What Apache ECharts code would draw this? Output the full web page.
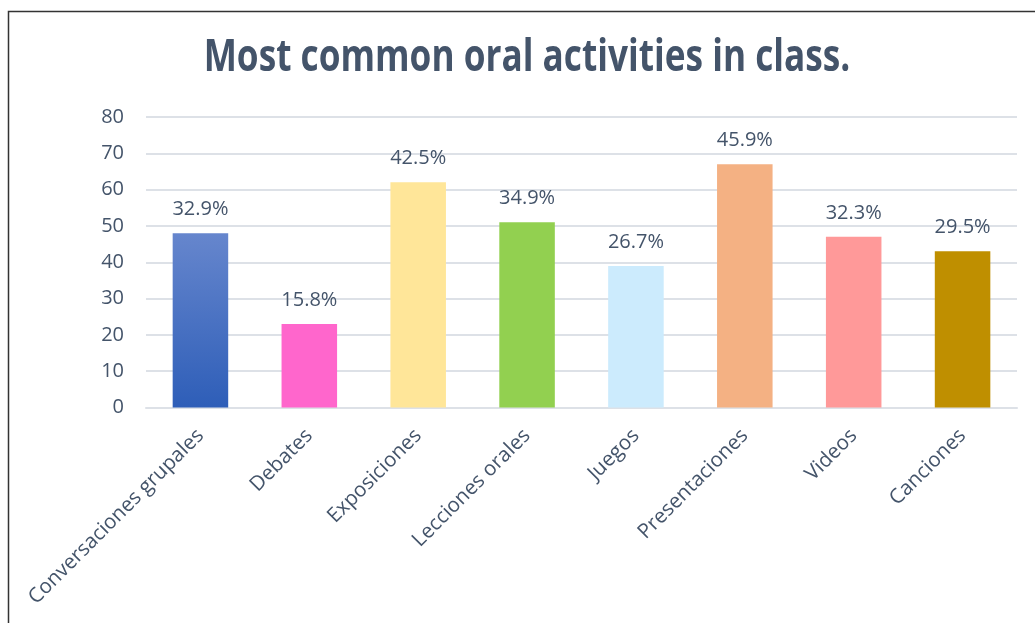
<!DOCTYPE html>
<html>
<head>
<meta charset="utf-8">
<title>Most common oral activities in class.</title>
<script src="https://cdn.jsdelivr.net/npm/echarts@6/dist/echarts.min.js"></script>
<style>
  html, body { margin: 0; padding: 0; background: #ffffff; }
  #chart { width: 1035px; height: 623px; }
</style>
</head>
<body>
<div id="chart"></div>
<script>
// Activities asked about and how many students named each one
const categories = [
  'Conversaciones grupales', 'Debates', 'Exposiciones', 'Lecciones orales',
  'Juegos', 'Presentaciones', 'Videos', 'Canciones'
];
const counts = [48, 23, 62, 51, 39, 67, 47, 43];
const percentLabels = ['32.9%', '15.8%', '42.5%', '34.9%', '26.7%', '45.9%', '32.3%', '29.5%'];
const yTicks = [0, 10, 20, 30, 40, 50, 60, 70, 80];
const titleText = 'Most common oral activities in class.';

const barColors = [
  new echarts.graphic.LinearGradient(0, 0, 0, 1, [
    { offset: 0, color: '#6686CD' },
    { offset: 1, color: '#2E5EB8' }
  ]),
  '#FF66CC', '#FFE699', '#92D050', '#CCEBFD', '#F4B183', '#FF9999', '#BF8F00'
];

const textColor = '#44546A';
const gridColor = '#DDE1E7';
const font = '"Open Sans", "Noto Sans", sans-serif';

const chart = echarts.init(document.getElementById('chart'), null, { renderer: 'canvas' });

chart.setOption({
  animation: false,
  backgroundColor: '#ffffff',
  graphic: [
    {
      // outer frame: left and top edges
      type: 'polyline',
      silent: true,
      shape: { points: [[8.5, 623], [8.5, 11.5], [1035, 11.5]] },
      style: { stroke: '#333333', lineWidth: 1.5, fill: null }
    },
    {
      // condensed bold heading
      type: 'text',
      silent: true,
      x: 527,
      y: 58,
      scaleX: 0.8,
      style: {
        text: titleText,
        fontFamily: font,
        fontWeight: 'bold',
        fontSize: 44,
        fill: textColor,
        align: 'center',
        verticalAlign: 'middle'
      }
    }
  ],
  grid: { left: 146, right: 18, top: 117, bottom: 215.5, containLabel: false },
  xAxis: {
    type: 'category',
    data: categories,
    axisLine: { show: true, lineStyle: { color: gridColor, width: 2 } },
    axisTick: { show: false },
    axisLabel: {
      interval: 0,
      rotate: 45,
      margin: 25,
      fontFamily: font,
      fontSize: 20.5,
      color: textColor
    }
  },
  yAxis: {
    type: 'value',
    min: yTicks[0],
    max: yTicks[yTicks.length - 1],
    interval: yTicks[1] - yTicks[0],
    axisLine: { show: false },
    axisTick: { show: false },
    splitLine: { lineStyle: { color: gridColor, width: 2 } },
    axisLabel: {
      margin: 22,
      fontFamily: font,
      fontSize: 20,
      color: textColor
    }
  },
  series: [{
    type: 'bar',
    data: counts.map((v, i) => ({ value: v, itemStyle: { color: barColors[i] } })),
    barWidth: '51%',
    label: {
      show: true,
      position: 'top',
      distance: 14,
      formatter: p => percentLabels[p.dataIndex],
      fontFamily: font,
      fontSize: 20,
      color: textColor
    }
  }]
});
</script>
</body>
</html>
